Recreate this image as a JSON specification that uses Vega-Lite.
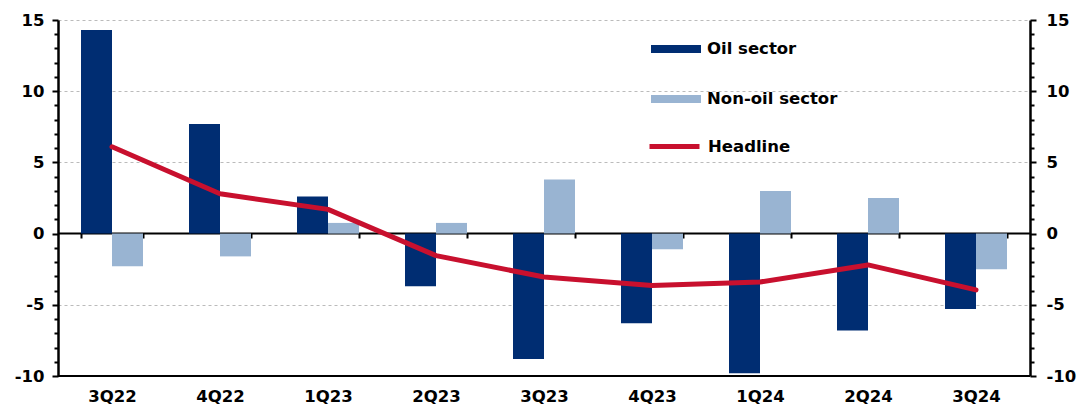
{
  "$schema": "https://vega.github.io/schema/vega-lite/v6.json",
  "width": 972,
  "height": 356,
  "autosize": {"type": "none"},
  "padding": {"left": 58, "top": 20, "right": 48, "bottom": 31},
  "config": {
    "view": {"stroke": null},
    "font": "DejaVu Sans",
    "legend": {"labelFont": "DejaVu Sans", "labelFontSize": 16.5, "labelFontWeight": "bold", "labelColor": "black", "padding": 0, "offset": 0}
  },
  "data": {
    "values": [
      {"quarter": "3Q22", "series": "Oil sector", "value": 14.3},
      {"quarter": "4Q22", "series": "Oil sector", "value": 7.7},
      {"quarter": "1Q23", "series": "Oil sector", "value": 2.6},
      {"quarter": "2Q23", "series": "Oil sector", "value": -3.7},
      {"quarter": "3Q23", "series": "Oil sector", "value": -8.8},
      {"quarter": "4Q23", "series": "Oil sector", "value": -6.3},
      {"quarter": "1Q24", "series": "Oil sector", "value": -9.8},
      {"quarter": "2Q24", "series": "Oil sector", "value": -6.8},
      {"quarter": "3Q24", "series": "Oil sector", "value": -5.3},
      {"quarter": "3Q22", "series": "Non-oil sector", "value": -2.3},
      {"quarter": "4Q22", "series": "Non-oil sector", "value": -1.6},
      {"quarter": "1Q23", "series": "Non-oil sector", "value": 0.75},
      {"quarter": "2Q23", "series": "Non-oil sector", "value": 0.75},
      {"quarter": "3Q23", "series": "Non-oil sector", "value": 3.8},
      {"quarter": "4Q23", "series": "Non-oil sector", "value": -1.1},
      {"quarter": "1Q24", "series": "Non-oil sector", "value": 3.0},
      {"quarter": "2Q24", "series": "Non-oil sector", "value": 2.5},
      {"quarter": "3Q24", "series": "Non-oil sector", "value": -2.5},
      {"quarter": "3Q22", "series": "Headline", "value": 6.1},
      {"quarter": "4Q22", "series": "Headline", "value": 2.8},
      {"quarter": "1Q23", "series": "Headline", "value": 1.7},
      {"quarter": "2Q23", "series": "Headline", "value": -1.55},
      {"quarter": "3Q23", "series": "Headline", "value": -3.05},
      {"quarter": "4Q23", "series": "Headline", "value": -3.65},
      {"quarter": "1Q24", "series": "Headline", "value": -3.4},
      {"quarter": "2Q24", "series": "Headline", "value": -2.2},
      {"quarter": "3Q24", "series": "Headline", "value": -3.95}
    ]
  },
  "layer": [
    {
      "transform": [{"filter": "datum.series !== 'Headline'"}],
      "mark": {"type": "bar"},
      "encoding": {
        "x": {
          "field": "quarter", "type": "nominal", "sort": null,
          "scale": {"paddingInner": 0.426, "paddingOuter": 0.213},
          "axis": {
            "title": null, "offset": -143, "domainColor": "black", "domainWidth": 2,
            "tickBand": "extent", "tickColor": "black", "tickWidth": 2, "tickSize": 5,
            "labelAngle": 0, "labelPadding": 150, "labelFontSize": 16.5, "labelFontWeight": "bold",
            "labelColor": "black", "labelFont": "DejaVu Sans"
          }
        },
        "xOffset": {"field": "series", "type": "nominal", "sort": ["Oil sector", "Non-oil sector"]},
        "y": {
          "field": "value", "type": "quantitative",
          "scale": {"domain": [-10, 15], "nice": false, "zero": false},
          "axis": {
            "orient": "left", "title": null,
            "values": [-10,-9,-8,-7,-6,-5,-4,-3,-2,-1,0,1,2,3,4,5,6,7,8,9,10,11,12,13,14,15],
            "labelExpr": "datum.value % 5 === 0 ? ('' + datum.value) : ''",
            "tickSize": {"condition": {"test": "datum.value % 5 === 0", "value": 6}, "value": 4},
            "tickColor": "black", "tickWidth": 2,
            "domainColor": "black", "domainWidth": 2.5,
            "grid": true, "gridDash": [3, 3], "gridColor": "#bbbbbb", "gridWidth": 1,
            "gridOpacity": {"condition": {"test": "datum.value % 5 === 0 && datum.value !== 0 && datum.value !== -10", "value": 1}, "value": 0},
            "labelFontSize": 16.5, "labelFontWeight": "bold", "labelColor": "black", "labelPadding": 8, "labelFont": "DejaVu Sans"
          }
        },
        "fill": {
          "field": "series", "type": "nominal",
          "scale": {"domain": ["Oil sector", "Non-oil sector"], "range": ["#002D72", "#99B4D2"]},
          "legend": {
            "title": null, "orient": "none", "legendX": 593, "legendY": 4,
            "symbolType": "M-1,-0.16H1V0.16H-1Z", "symbolSize": 2500, "symbolStrokeWidth": 0,
            "rowPadding": 16, "labelOffset": 6
          }
        }
      }
    },
    {
      "transform": [{"filter": "datum.series === 'Headline'"}],
      "mark": {"type": "line", "strokeWidth": 5, "strokeCap": "round", "strokeJoin": "round"},
      "encoding": {
        "x": {"field": "quarter", "type": "nominal", "sort": null},
        "y": {
          "field": "value", "type": "quantitative",
          "axis": {
            "orient": "right", "title": null,
            "values": [-10,-9,-8,-7,-6,-5,-4,-3,-2,-1,0,1,2,3,4,5,6,7,8,9,10,11,12,13,14,15],
            "labelExpr": "datum.value % 5 === 0 ? ('' + datum.value) : ''",
            "tickSize": {"condition": {"test": "datum.value % 5 === 0", "value": 6}, "value": 4},
            "tickColor": "black", "tickWidth": 2,
            "domainColor": "black", "domainWidth": 2.5, "grid": false,
            "labelFontSize": 16.5, "labelFontWeight": "bold", "labelColor": "black", "labelPadding": 10, "labelFont": "DejaVu Sans"
          }
        },
        "stroke": {
          "field": "series", "type": "nominal",
          "scale": {"domain": ["Headline"], "range": ["#C8102E"]},
          "legend": {
            "title": null, "orient": "none", "legendX": 589, "legendY": 99,
            "symbolType": "stroke", "symbolSize": 2500, "symbolStrokeWidth": 5, "labelOffset": 6
          }
        }
      }
    },
    {
      "mark": {"type": "rule", "color": "black", "strokeWidth": 2},
      "encoding": {"y": {"datum": -10, "type": "quantitative", "axis": null}}
    }
  ],
  "resolve": {"scale": {"y": "shared"}, "axis": {"y": "independent"}}
}
